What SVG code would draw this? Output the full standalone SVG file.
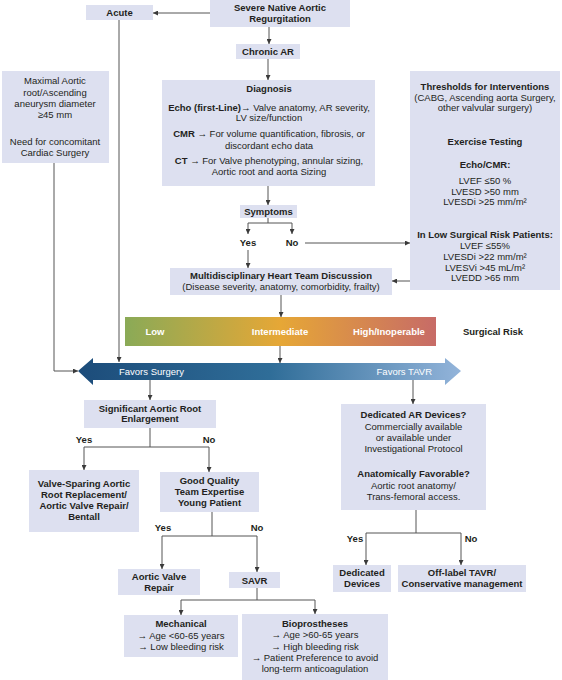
<svg xmlns="http://www.w3.org/2000/svg" width="562" height="680" viewBox="0 0 562 680">
<defs>
<marker id="ah" viewBox="0 0 6 6" refX="6" refY="3" markerWidth="5" markerHeight="5" markerUnits="userSpaceOnUse" orient="auto"><path d="M0,0 L6,3 L0,6 z" fill="#3a3a3a"/></marker>
<linearGradient id="risk" x1="0" y1="0" x2="1" y2="0"><stop offset="0" stop-color="#8aaa57"/><stop offset="0.5" stop-color="#e6a736"/><stop offset="1" stop-color="#c76b67"/></linearGradient>
<linearGradient id="favor" x1="0" y1="0" x2="1" y2="0"><stop offset="0" stop-color="#1c4c7a"/><stop offset="0.5" stop-color="#2f6d98"/><stop offset="1" stop-color="#93b4da"/></linearGradient>
<style>
.box{fill:#dde0f0}
text{font-family:"Liberation Sans",Arial,sans-serif;font-size:9.5px;fill:#231f20;text-anchor:middle}
.b{font-weight:bold}
.w{fill:#ffffff}
.st{text-anchor:start}
.en{text-anchor:end}
.c path{fill:none;stroke:#555555;stroke-width:1}
</style>
</defs>
<rect width="562" height="680" fill="#ffffff"/>

<g id="connectors" class="c">
<path d="M210,13 H153" marker-end="url(#ah)"/>
<path d="M269,27 V44" marker-end="url(#ah)"/>
<path d="M268,59 V80" marker-end="url(#ah)"/>
<path d="M268,186 V205" marker-end="url(#ah)"/>
<path d="M268,218 V223 H248 V234" marker-end="url(#ah)"/>
<path d="M268,223 H292 V234" marker-end="url(#ah)"/>
<path d="M248,250 V268" marker-end="url(#ah)"/>
<path d="M305,243 H410" marker-end="url(#ah)"/>
<path d="M410,281 H392" marker-end="url(#ah)"/>
<path d="M281,295 V317" marker-end="url(#ah)"/>
<path d="M280,346 V363" marker-end="url(#ah)"/>
<path d="M119,20 V362" marker-end="url(#ah)"/>
<path d="M54,163 V371 H78" marker-end="url(#ah)"/>
<path d="M150,380 V400" marker-end="url(#ah)"/>
<path d="M413,380 V404" marker-end="url(#ah)"/>
<path d="M150,428 V447 H84 V470" marker-end="url(#ah)"/>
<path d="M150,447 H209 V472" marker-end="url(#ah)"/>
<path d="M212,512 V536 H162 V569" marker-end="url(#ah)"/>
<path d="M212,536 H257 V572" marker-end="url(#ah)"/>
<path d="M257,588 V600 H181 V615" marker-end="url(#ah)"/>
<path d="M257,600 H315 V614" marker-end="url(#ah)"/>
<path d="M416,510 V533 H366 V565" marker-end="url(#ah)"/>
<path d="M416,533 H461 V565" marker-end="url(#ah)"/>
</g>

<g id="severe"><rect class="box" x="210" y="0" width="140" height="27"/>
<text class="b" x="280" y="11">Severe Native Aortic</text><text class="b" x="280" y="22">Regurgitation</text></g>

<g id="acute"><rect class="box" x="86" y="5" width="67" height="15"/><text class="b" x="119.5" y="16">Acute</text></g>

<g id="chronic"><rect class="box" x="236" y="44" width="64" height="15"/><text class="b" x="268" y="55">Chronic AR</text></g>

<g id="maximal"><rect class="box" x="2" y="71" width="107" height="92"/>
<text x="55" y="84">Maximal Aortic</text>
<text x="55" y="96">root/Ascending</text>
<text x="55" y="107">aneurysm diameter</text>
<text x="55" y="118">≥45 mm</text>
<text x="55" y="145">Need for concomitant</text>
<text x="55" y="156">Cardiac Surgery</text></g>

<g id="diagnosis"><rect class="box" x="162" y="80" width="213" height="106"/>
<text class="b" x="269" y="92">Diagnosis</text>
<text x="269" y="111"><tspan class="b">Echo (first-Line)</tspan>→ Valve anatomy, AR severity,</text>
<text x="269" y="121">LV size/function</text>
<text x="269" y="137"><tspan class="b">CMR</tspan> → For volume quantification, fibrosis, or</text>
<text x="269" y="149">discordant echo data</text>
<text x="269" y="164"><tspan class="b">CT</tspan> → For Valve phenotyping, annular sizing,</text>
<text x="269" y="175">Aortic root and aorta Sizing</text></g>

<g id="thresholds"><rect class="box" x="410" y="71" width="150" height="219"/>
<text class="b" x="485" y="89.5">Thresholds for Interventions</text>
<text x="485" y="100.5">(CABG, Ascending aorta Surgery,</text>
<text x="485" y="111">other valvular surgery)</text>
<text class="b" x="485" y="145">Exercise Testing</text>
<text class="b" x="485" y="168">Echo/CMR:</text>
<text x="485" y="184">LVEF ≤50 %</text>
<text x="485" y="195">LVESD &gt;50 mm</text>
<text x="485" y="205">LVESDi &gt;25 mm/m²</text>
<text class="b" x="485" y="238">In Low Surgical Risk Patients:</text>
<text x="485" y="249">LVEF ≤55%</text>
<text x="485" y="260">LVESDi &gt;22 mm/m²</text>
<text x="485" y="271">LVESVi &gt;45 mL/m²</text>
<text x="485" y="281">LVEDD &gt;65 mm</text></g>

<g id="symptoms"><rect class="box" x="240" y="205" width="57" height="13"/><text class="b" x="268.5" y="215">Symptoms</text></g>
<g id="symptoms-labels"><text class="b" x="248" y="246">Yes</text><text class="b" x="292" y="246">No</text></g>

<g id="mhd"><rect class="box" x="170" y="268" width="222" height="27"/>
<text class="b" x="281" y="279">Multidisciplinary Heart Team Discussion</text>
<text x="281" y="290">(Disease severity, anatomy, comorbidity, frailty)</text></g>

<g id="risk-bar"><rect x="125" y="317" width="311" height="29" fill="url(#risk)"/>
<text class="b w" x="155" y="334.5">Low</text>
<text class="b w" x="280" y="334.5">Intermediate</text>
<text class="b w" x="389" y="334.5">High/Inoperable</text>
<text class="b" x="493" y="334.5">Surgical Risk</text></g>

<g id="favors-arrow"><path d="M78,371 L93,358 L93,363 L445,363 L445,358 L461,371 L445,385 L445,380 L93,380 L93,385 Z" fill="url(#favor)"/>
<text class="w st" x="119" y="374.5">Favors Surgery</text>
<text class="w en" x="432" y="374.5">Favors TAVR</text></g>

<g id="root"><rect class="box" x="84" y="400" width="132" height="28"/>
<text class="b" x="150" y="412">Significant Aortic Root</text><text class="b" x="150" y="422">Enlargement</text></g>
<g id="root-labels"><text class="b" x="84" y="443">Yes</text><text class="b" x="209" y="443">No</text></g>

<g id="valve-sparing"><rect class="box" x="29" y="470" width="110" height="62"/>
<text class="b" x="84" y="487">Valve-Sparing Aortic</text>
<text class="b" x="84" y="498">Root Replacement/</text>
<text class="b" x="84" y="509">Aortic Valve Repair/</text>
<text class="b" x="84" y="520">Bentall</text></g>

<g id="good-quality"><rect class="box" x="160" y="472" width="99" height="40"/>
<text class="b" x="209.5" y="484">Good Quality</text>
<text class="b" x="209.5" y="495">Team Expertise</text>
<text class="b" x="209.5" y="506">Young Patient</text></g>
<g id="gq-labels"><text class="b" x="163" y="531">Yes</text><text class="b" x="257" y="531">No</text></g>

<g id="repair"><rect class="box" x="118" y="569" width="82" height="26"/>
<text class="b" x="159" y="580">Aortic Valve</text><text class="b" x="159" y="591">Repair</text></g>

<g id="savr"><rect class="box" x="229" y="572" width="51" height="16"/><text class="b" x="254.5" y="584">SAVR</text></g>

<g id="mechanical"><rect class="box" x="124" y="615" width="114" height="42"/>
<text class="b" x="181" y="627">Mechanical</text>
<text x="181" y="639">→ Age &lt;60-65 years</text>
<text x="181" y="650">→ Low bleeding risk</text></g>

<g id="bioprostheses"><rect class="box" x="242" y="614" width="146" height="66"/>
<text class="b" x="315" y="627">Bioprostheses</text>
<text x="315" y="638">→ Age &gt;60-65 years</text>
<text x="315" y="650">→ High bleeding risk</text>
<text x="315" y="661">→ Patient Preference to avoid</text>
<text x="315" y="672">long-term anticoagulation</text></g>

<g id="dedicated-ar"><rect class="box" x="341" y="404" width="145" height="106"/>
<text class="b" x="413.5" y="418">Dedicated AR Devices?</text>
<text x="413.5" y="430">Commercially available</text>
<text x="413.5" y="441">or available under</text>
<text x="413.5" y="452">Investigational Protocol</text>
<text class="b" x="413.5" y="477">Anatomically Favorable?</text>
<text x="413.5" y="489">Aortic root anatomy/</text>
<text x="413.5" y="500">Trans-femoral access.</text></g>
<g id="dar-labels"><text class="b" x="355" y="542">Yes</text><text class="b" x="471" y="542">No</text></g>

<g id="dedicated-devices"><rect class="box" x="333" y="565" width="58" height="27"/>
<text class="b" x="362" y="576">Dedicated</text><text class="b" x="362" y="587">Devices</text></g>

<g id="off-label"><rect class="box" x="398" y="565" width="128" height="27"/>
<text class="b" x="462" y="576">Off-label TAVR/</text><text class="b" x="462" y="587">Conservative management</text></g>
</svg>
